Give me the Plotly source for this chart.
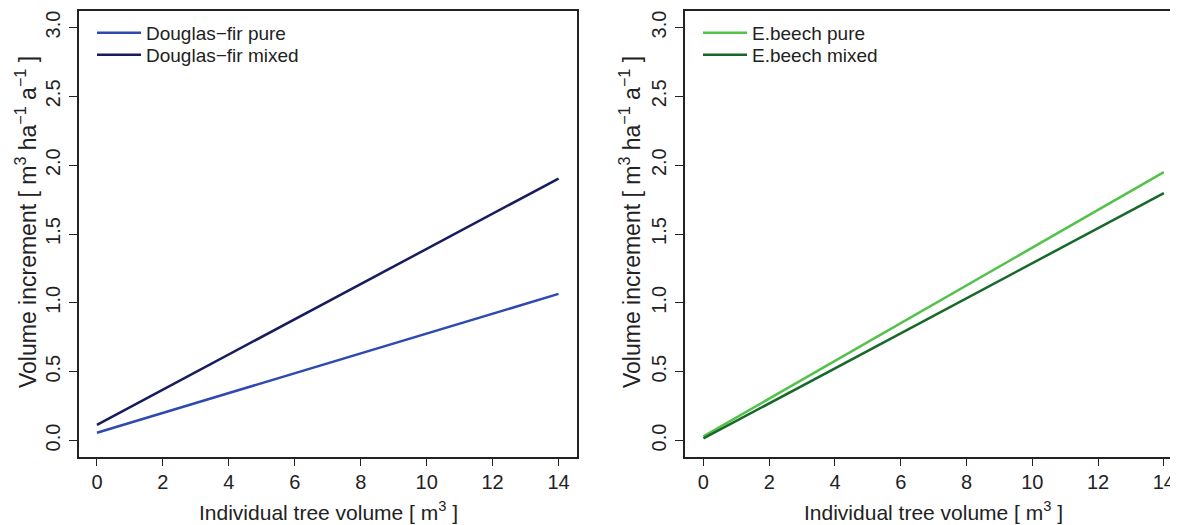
import plotly.graph_objects as go

# Data
x_vals = [0, 14]
df_pure = [0.056, 1.065]
df_mixed = [0.114, 1.903]
eb_pure = [0.030, 1.949]
eb_mixed = [0.015, 1.797]

y_ticks = [0, 0.5, 1.0, 1.5, 2.0, 2.5, 3.0]
y_labels = ["0.0", "0.5", "1.0", "1.5", "2.0", "2.5", "3.0"]
x_ticks = [0, 2, 4, 6, 8, 10, 12, 14]

# page body has an 8px margin; figure is sized so it ends at the window edge
OFF = 8
W, H = 1178 - OFF, 525 - OFF
FONT = "Liberation Sans, Arial, Helvetica, sans-serif"
TXT = "#222222"
LINE = "#222222"

def px(v):  # absolute window x -> paper fraction
    return (v - OFF) / W

def py(v):  # absolute window y (from top) -> paper fraction
    return (H - (v - OFF)) / H

fig = go.Figure()
fig.add_trace(go.Scatter(x=x_vals, y=df_pure, mode="lines", name="Douglas\u2212fir pure",
                         line=dict(color="#2f49b3", width=2.5), xaxis="x", yaxis="y", legend="legend"))
fig.add_trace(go.Scatter(x=x_vals, y=df_mixed, mode="lines", name="Douglas\u2212fir mixed",
                         line=dict(color="#161c5c", width=2.5), xaxis="x", yaxis="y", legend="legend3"))
fig.add_trace(go.Scatter(x=x_vals, y=eb_pure, mode="lines", name="E.beech pure",
                         line=dict(color="#52c24a", width=2.5), xaxis="x2", yaxis="y2", legend="legend2"))
fig.add_trace(go.Scatter(x=x_vals, y=eb_mixed, mode="lines", name="E.beech mixed",
                         line=dict(color="#17692a", width=2.5), xaxis="x2", yaxis="y2", legend="legend4"))

y_dom = [py(457), py(11)]

common_x = dict(tickvals=x_ticks, ticks="outside", ticklen=7, tickwidth=1.3, tickcolor=LINE,
                showgrid=False, zeroline=False, showline=True, linecolor=LINE, linewidth=1.8,
                ticklabelstandoff=-1,
                tickfont=dict(family=FONT, size=20, color=TXT))
common_y = dict(tickvals=y_ticks, ticktext=y_labels, ticks="outside", ticklen=8, tickwidth=1.3,
                tickcolor=LINE, showgrid=False, zeroline=False, showline=True, linecolor=LINE,
                linewidth=1.8, tickangle=-90, range=[-0.12, 3.12], domain=y_dom,
                ticklabelstandoff=1,
                tickfont=dict(family=FONT, size=20, color=TXT))

def leg(xabs, yabs):
    return dict(x=px(xabs), y=py(yabs), xanchor="left", yanchor="top", bgcolor="rgba(0,0,0,0)",
                font=dict(family=FONT, size=19, color=TXT), itemwidth=44, tracegroupgap=0)

fig.update_layout(
    width=W, height=H,
    margin=dict(l=0, r=0, t=0, b=0),
    paper_bgcolor="white", plot_bgcolor="white",
    xaxis=dict(domain=[px(78.5), px(577)], range=[-0.56, 14.56], mirror=True, anchor="y", **common_x),
    yaxis=dict(anchor="x", mirror=True, **common_y),
    xaxis2=dict(domain=[px(685), 1.0], range=[-0.56, 14.43], mirror=True, anchor="y2", **common_x),
    yaxis2=dict(anchor="x2", mirror=False, **common_y),
    legend=leg(92, 14),
    legend3=leg(92, 36),
    legend2=leg(698, 14),
    legend4=leg(698, 36),
    showlegend=True,
)

ytitle = "Volume increment [ m<sup>3</sup> ha<sup>\u22121</sup> a<sup>\u22121</sup> ]"
xtitle = "Individual tree volume [ m<sup>3</sup> ]"
annos = [
    dict(text=ytitle, x=px(26), y=py(222), textangle=-90, size=23),
    dict(text=ytitle, x=px(630), y=py(222), textangle=-90, size=23),
    dict(text=xtitle, x=px(328), y=py(511), size=21),
    dict(text=xtitle, x=px(933.5), y=py(511), size=21),
]
for a in annos:
    size = a.pop("size")
    fig.add_annotation(xref="paper", yref="paper", xanchor="center", yanchor="middle",
                       showarrow=False, font=dict(family=FONT, size=size, color=TXT), **a)

fig.write_html("out.html")
